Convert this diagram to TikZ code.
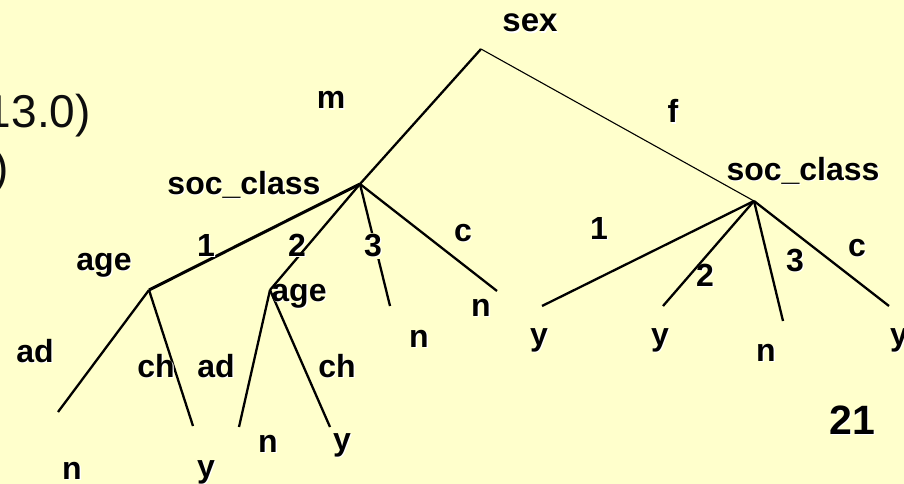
\documentclass[tikz,border=0pt]{standalone}
\usepackage{fontspec}
\setmainfont{Liberation Sans}
\definecolor{slidebg}{HTML}{FFFFCC}
\newcommand{\shd}[1]{\makebox[0pt][l]{\hspace{1.3pt}\raisebox{-1.3pt}{\textcolor{white}{#1}}}#1}

\begin{document}
\begin{tikzpicture}[x=1pt,y=-1pt,
		lbl/.style={anchor=base,inner sep=0pt,font=\fontsize{32}{32}\selectfont\bfseries},
		edge/.style={line width=2.3pt}]
			\fill[slidebg] (0,0) rectangle (904,484);
			\clip (0,0) rectangle (904,484);
			\node[anchor=base east,inner sep=0pt,text=black!95,font=\fontsize{46}{46}\selectfont] (prev1) at (91,128) {13.0)};
			\node[anchor=base east,inner sep=0pt,text=black!95,font=\fontsize{46}{46}\selectfont] (prev2) at (9,183) {)};
			\coordinate (root) at (481,49);
			\coordinate (socm) at (360,184);
			\coordinate (socf) at (754,201);
			\coordinate (agea) at (149,290);
			\coordinate (ageb) at (270,290);
			\coordinate (m3) at (390,306);
			\coordinate (mc) at (497,291);
			\coordinate (aad) at (58,412);
			\coordinate (ach) at (193,426);
			\coordinate (bad) at (239,427);
			\coordinate (bch) at (330,427);
			\coordinate (f1) at (542,306);
			\coordinate (f2) at (663,306);
			\coordinate (f3) at (783,321);
			\coordinate (fc) at (889,306);
			\draw[edge] (root) -- (socm);
			\draw[line width=1.1pt] (root) -- (socf);
			\draw[line width=3pt] (socm) -- (agea);
			\draw[edge] (socm) -- (ageb);
			\draw[edge] (socm) -- (m3);
			\draw[edge] (socm) -- (mc);
			\draw[edge] (agea) -- (aad);
			\draw[edge] (agea) -- (ach);
			\draw[edge] (ageb) -- (bad);
			\draw[edge] (ageb) -- (bch);
			\draw[edge] (socf) -- (f1);
			\draw[edge] (socf) -- (f2);
			\draw[edge] (socf) -- (f3);
			\draw[edge] (socf) -- (fc);
			\node[lbl,font=\fontsize{33}{33}\selectfont\bfseries] (sex) at (530,32) {\shd{sex}};
			\node[lbl] (m) at (331,109) {\shd{m}};
			\node[lbl] (f) at (673,123) {\shd{f}};
			\node[lbl] (socml) at (244,194) {\shd{soc\_class}};
			\node[lbl] (socfl) at (803,180) {\shd{soc\_class}};
			\node[lbl] (m1) at (206,256) {\shd{1}};
			\node[lbl] (m2) at (297,256) {\shd{2}};
			\node[lbl,fill=slidebg,inner sep=1pt] (m3l) at (373,256) {\shd{3}};
			\node[lbl] (mcl) at (463,241) {\shd{c}};
			\node[lbl] (f1l) at (599,239) {\shd{1}};
			\node[lbl] (f2l) at (705,286) {\shd{2}};
			\node[lbl] (f3l) at (795,271) {\shd{3}};
			\node[lbl] (fcl) at (857,256) {\shd{c}};
			\node[lbl] (agel) at (104,270) {\shd{age}};
			\node[lbl] (ager) at (299,301) {\shd{age}};
			\node[lbl] (aadl) at (35,362) {\shd{ad}};
			\node[lbl] (achl) at (156,377) {\shd{ch}};
			\node[lbl] (badl) at (216,377) {\shd{ad}};
			\node[lbl] (bchl) at (337,377) {\shd{ch}};
			\node[lbl] (leaf1) at (72,479) {\shd{n}};
			\node[lbl] (leaf2) at (206,477) {\shd{y}};
			\node[lbl] (leaf3) at (268,452) {\shd{n}};
			\node[lbl] (leaf4) at (342,450) {\shd{y}};
			\node[lbl] (leaf5) at (419,347) {\shd{n}};
			\node[lbl] (leaf6) at (481,316) {\shd{n}};
			\node[lbl] (leaf7) at (539,345) {\shd{y}};
			\node[lbl] (leaf8) at (660,345) {\shd{y}};
			\node[lbl] (leaf9) at (766,361) {\shd{n}};
			\node[lbl] (leaf10) at (899,345) {\shd{y}};
			\node[lbl,font=\fontsize{41}{41}\selectfont\bfseries] (pgno) at (852,434) {\shd{21}};
		\end{tikzpicture}
\end{document}
